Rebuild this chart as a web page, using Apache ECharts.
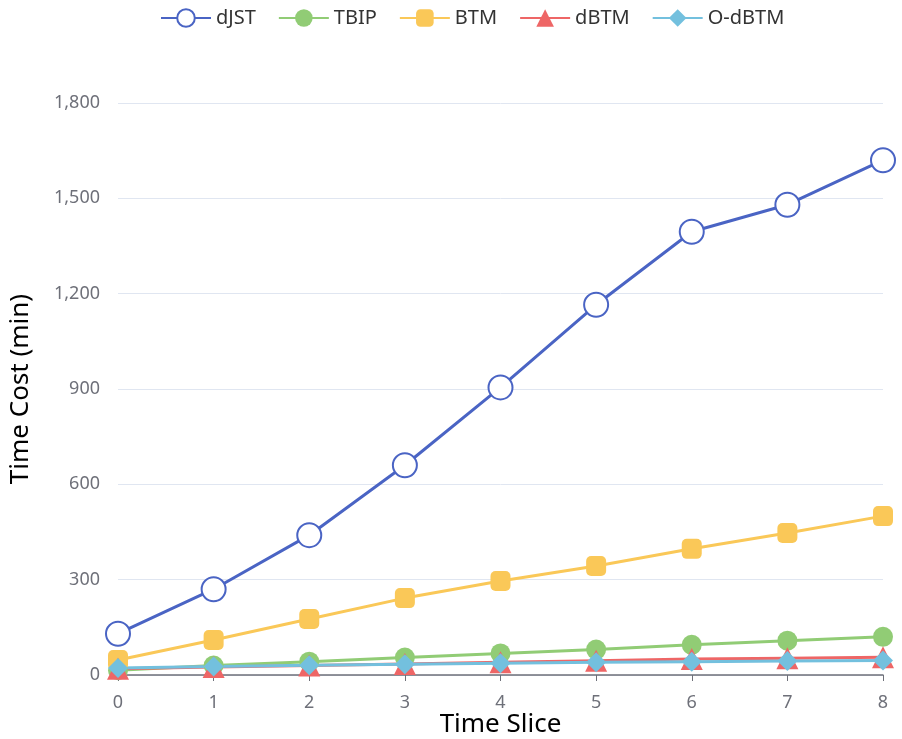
<!DOCTYPE html>
<html>
<head>
<meta charset="utf-8">
<script src="https://cdn.jsdelivr.net/npm/echarts@6/dist/echarts.min.js"></script>
<style>html,body{margin:0;padding:0;background:#fff}#c{width:902px;height:739px}</style>
</head>
<body>
<div id="c"></div>
<script>
const categories = ['0','1','2','3','4','5','6','7','8'];
const seriesNames = ['dJST','TBIP','BTM','dBTM','O-dBTM'];
const dJST = [130, 270, 440, 660, 905, 1165, 1395, 1480, 1620];
const TBIP = [15, 30, 42, 55, 68, 80, 95, 108, 120];
const BTM = [47, 110, 176, 242, 296, 343, 397, 447, 500];
const dBTM = [20, 25, 30, 35, 40, 45, 50, 53, 56];
const OdBTM = [22, 27, 31, 34, 37, 40, 42, 44, 46];
const yTicks = {min: 0, max: 1800, interval: 300};

const chart = echarts.init(document.getElementById('c'));
const font = 'Noto Sans, sans-serif';
function mk(name, data, symbol, size, color) {
  return {
    name, type: 'line', data, symbol, symbolSize: size,
    lineStyle: {width: 3, color},
    itemStyle: symbol === 'emptyCircle' ? {color, borderWidth: 3} : {color},
    color
  };
}
chart.setOption({
  animation: false,
  legend: {
    top: 3, left: 155,
    itemWidth: 50, itemHeight: 22, itemGap: 22,
    textStyle: {fontSize: 20, color: '#333', fontFamily: font},
    data: seriesNames
  },
  grid: {left: 118, right: 19, top: 103, bottom: 64, containLabel: false, outerBoundsMode: 'none'},
  xAxis: {
    type: 'category', data: categories, boundaryGap: false,
    name: 'Time Slice', nameLocation: 'middle', nameGap: 37, nameMoveOverlap: false,
    nameTextStyle: {fontSize: 26, color: '#000', fontFamily: font},
    axisLine: {lineStyle: {color: '#6e7079', width: 1.5}},
    axisTick: {show: true, alignWithLabel: true, length: 6},
    axisLabel: {fontSize: 18, color: '#6e7079', margin: 19, fontFamily: font}
  },
  yAxis: {
    type: 'value', min: yTicks.min, max: yTicks.max, interval: yTicks.interval,
    name: 'Time Cost (min)', nameLocation: 'middle', nameGap: 84, nameMoveOverlap: false,
    nameTextStyle: {fontSize: 26, color: '#000', fontFamily: font},
    axisLabel: {fontSize: 18, color: '#6e7079', margin: 18, fontFamily: font},
    splitLine: {lineStyle: {color: '#e0e6f1'}}
  },
  series: [
    mk('dJST', dJST, 'emptyCircle', 24, '#4a64c4'),
    mk('TBIP', TBIP, 'circle', 20, '#91cc75'),
    mk('BTM', BTM, 'roundRect', 20, '#fac858'),
    mk('dBTM', dBTM, 'triangle', 22, '#ee6666'),
    mk('O-dBTM', OdBTM, 'diamond', 20, '#73c0de')
  ]
});
</script>
</body>
</html>
